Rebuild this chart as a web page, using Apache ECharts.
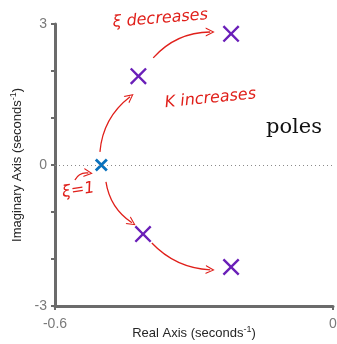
<!DOCTYPE html>
<html>
<head>
<meta charset="utf-8">
<script src="https://cdn.jsdelivr.net/npm/echarts@6/dist/echarts.min.js"></script>
<style>
  html, body { margin: 0; padding: 0; background: #fff; }
  #chart { width: 337px; height: 344px; }
</style>
</head>
<body>
<div id="chart"></div>
<script>
// poles (real, imag)
const startReal = [-0.5];
const startImag = [0];
const poleReal = [-0.42, -0.22, -0.41, -0.22];
const poleImag = [1.89, 2.79, -1.47, -2.17];

// hand drawn arrows, in axis units
const arrowFrom = [[-0.388, 2.28], [-0.503, 0.28], [-0.557, -0.32], [-0.49, -0.36], [-0.391, -1.66]];
const arrowTo = [[-0.265, 2.83], [-0.438, 1.45], [-0.528, -0.17], [-0.434, -1.23], [-0.265, -2.23]];
const arrowBend = [0.22, 0.22, 0.35, -0.22, -0.2];

const xTicks = [-0.6, 0];
const yLabels = [-3, 0, 3];

const red = '#e0201b';
const xPath = 'path://M0,2 L2,0 L10,8 L18,0 L20,2 L12,10 L20,18 L18,20 L10,12 L2,20 L0,18 L8,10 Z';
const xBold = 'path://M0,3 L3,0 L10,7 L17,0 L20,3 L13,10 L20,17 L17,20 L10,13 L3,20 L0,17 L7,10 Z';
const vPath = 'path://M0,10 L5,0 L10,10 L8.6,10 L5,2.6 L1.4,10 Z';

let myChart = echarts.init(document.getElementById('chart'));

myChart.setOption({
  animation: false,
  grid: { left: 55, right: 4, top: 24, bottom: 38, outerBoundsMode: 'none', containLabel: false },
  xAxis: {
    type: 'value',
    min: xTicks[0],
    max: xTicks[1],
    interval: 0.6,
    name: '{a|Real Axis (seconds}{s|-1}{a|)}',
    nameLocation: 'middle',
    nameGap: 19,
    nameMoveOverlap: false,
    nameTextStyle: {
      rich: {
        a: { fontSize: 13, color: '#262626', fontFamily: 'Liberation Sans' },
        s: { fontSize: 9, color: '#262626', fontFamily: 'Liberation Sans', verticalAlign: 'top', padding: [0, 0, 8, 0] },
      },
    },
    axisLine: { onZero: false, lineStyle: { color: '#6b6b6b', width: 3 } },
    axisTick: { length: 4, lineStyle: { color: '#6b6b6b', width: 2 } },
    axisLabel: { color: '#7a7a7a', fontSize: 14, margin: 11, fontFamily: 'Liberation Sans' },
    splitLine: { show: false },
  },
  yAxis: {
    type: 'value',
    min: -3,
    max: 3,
    interval: 1,
    name: '{a|Imaginary Axis (seconds}{s|-1}{a|)}',
    nameLocation: 'middle',
    nameGap: 29,
    nameMoveOverlap: false,
    nameTextStyle: {
      rich: {
        a: { fontSize: 13, color: '#262626', fontFamily: 'Liberation Sans' },
        s: { fontSize: 9, color: '#262626', fontFamily: 'Liberation Sans', verticalAlign: 'top', padding: [0, 0, 8, 0] },
      },
    },
    axisLine: { show: true, onZero: false, lineStyle: { color: '#6b6b6b', width: 3 } },
    axisTick: { length: 4, lineStyle: { color: '#6b6b6b', width: 2 } },
    axisLabel: {
      color: '#7a7a7a',
      fontSize: 14,
      margin: 8,
      fontFamily: 'Liberation Sans',
      formatter: function (v) {
        return yLabels.indexOf(v) >= 0 ? String(v) : '';
      },
    },
    splitLine: { show: false },
  },
  graphic: [
    { type: 'text', left: 112, top: 7, rotation: 0.08, style: { text: 'ξ decreases', fill: red, font: 'italic 16px "DejaVu Sans"' } },
    { type: 'text', left: 164, top: 86, rotation: 0.1, style: { text: 'K increases', fill: red, font: 'italic 16px "DejaVu Sans"' } },
    { type: 'text', left: 61, top: 180, rotation: 0.15, style: { text: 'ξ=1', fill: red, font: 'italic 16px "DejaVu Sans"' } },
    { type: 'text', left: 266, top: 117, style: { text: 'poles', fill: '#111', font: '21px "DejaVu Serif"' } },
  ],
  series: [
    {
      type: 'lines',
      coordinateSystem: 'cartesian2d',
      silent: true,
      symbol: ['none', vPath],
      symbolSize: 9,
      z: 1,
      data: arrowFrom.map((f, i) => ({
        coords: [f, arrowTo[i]],
        lineStyle: { curveness: arrowBend[i] },
      })),
      lineStyle: { color: red, width: 1.3, opacity: 1 },
    },
    {
      type: 'scatter',
      data: poleReal.map((r, i) => [r, poleImag[i]]),
      symbol: xPath,
      symbolSize: 17,
      itemStyle: { color: '#6a1fb8', opacity: 1 },
      z: 3,
      markLine: {
        silent: true,
        symbol: 'none',
        label: { show: false },
        lineStyle: { type: [1, 3], color: '#8a8a8a', width: 1 },
        data: [{ yAxis: 0 }],
      },
    },
    {
      type: 'scatter',
      data: startReal.map((r, i) => [r, startImag[i]]),
      symbol: xBold,
      symbolSize: 13,
      itemStyle: { color: '#0a72bd', opacity: 1 },
      z: 4,
    },
  ],
});
window.addEventListener('resize', function () {
  myChart.resize();
});
</script>
</body>
</html>
